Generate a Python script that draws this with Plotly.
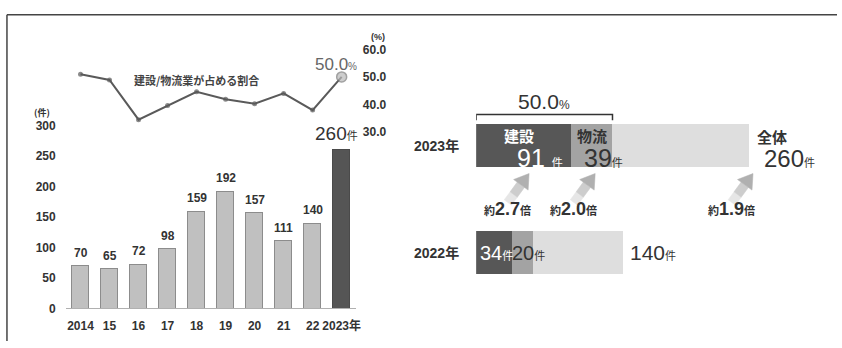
import plotly.graph_objects as go

W, H = 842, 348
def px(x): return x / W
def py(y): return 1 - y / H

# ---------------- data ----------------
years = ["2014", "15", "16", "17", "18", "19", "20", "21", "22", "2023年"]
cases = [70, 65, 72, 98, 159, 192, 157, 111, 140, 260]
share = [51.0, 48.9, 34.4, 39.6, 44.6, 41.9, 40.2, 44.0, 37.9, 50.0]

rows = [0, 1]                     # 0 = 2022, 1 = 2023
row_labels = ["2022年", "2023年"]
construction = [34, 91]
logistics = [20, 39]
total = [140, 260]
others = [t - c - l for t, c, l in zip(total, construction, logistics)]
ratios = ["2.7", "2.0", "1.9"]

pos = list(range(len(years)))

JP = "Noto Sans CJK JP"
NUM = "Liberation Sans, Arial, Noto Sans CJK JP, sans-serif"
NAR = "Liberation Sans Narrow, Liberation Sans, Noto Sans CJK JP, sans-serif"
TXT = "#333333"

fig = go.Figure()

# ---------------- left: bars ----------------
fig.add_trace(go.Bar(
    x=pos, y=cases, xaxis="x", yaxis="y", width=0.58,
    marker=dict(color=["#c0c0c0"] * 9 + ["#555555"],
                line=dict(color=["#8c8c8c"] * 9 + ["#4a4a4a"], width=1)),
    hoverinfo="skip", showlegend=False))

# ---------------- left: share line ----------------
fig.add_trace(go.Scatter(
    x=pos, y=share, xaxis="x", yaxis="y2", mode="lines+markers",
    line=dict(color="#5a5a5a", width=2),
    marker=dict(size=[5] * 9 + [10], color=["#5a5a5a"] * 9 + ["#b8b8b8"],
                line=dict(color="#7a7a7a", width=[0] * 9 + [1.5])),
    cliponaxis=False, hoverinfo="skip", showlegend=False))

# ---------------- right: stacked horizontal bars ----------------
for vals, col in [(construction, "#575757"), (logistics, "#a3a3a3"), (others, "#dedede")]:
    fig.add_trace(go.Bar(
        y=rows, x=vals, orientation="h", xaxis="x3", yaxis="y3", width=0.405,
        marker=dict(color=col, line=dict(width=0)),
        hoverinfo="skip", showlegend=False))

ann = []
# bar value labels (left)
for p, v in zip(pos[:-1], cases[:-1]):
    ann.append(dict(x=p, y=v, xref="x", yref="y", text=str(v), showarrow=False,
                    yanchor="bottom", yshift=4,
                    font=dict(family=NUM, size=12, color=TXT, weight="bold")))
ann.append(dict(x=pos[-1], y=cases[-1], xref="x", yref="y",
                text=f"{cases[-1]}<span style='font-size:11px'>件</span>", showarrow=False,
                yanchor="bottom", yshift=4, xshift=-5,
                font=dict(family=NUM, size=19, color=TXT)))
# last share value
ann.append(dict(x=pos[-1], y=share[-1], xref="x", yref="y2",
                text=f"{share[-1]:.1f}<span style='font-size:10px'>%</span>", showarrow=False,
                xshift=-6, yshift=12,
                font=dict(family=NUM, size=17, color="#666666")))
ann.append(dict(x=pos[4], y=48.9, xref="x", yref="y2", text="建設/物流業が占める割合",
                showarrow=False, font=dict(family=JP, size=11, color="#444444", weight="bold")))
ann.append(dict(x=px(42), y=py(110), xref="paper", yref="paper", text="(件)", showarrow=False,
                xanchor="center", yanchor="middle",
                font=dict(family=JP, size=9, color=TXT, weight="bold")))
ann.append(dict(x=px(380), y=py(31), xref="paper", yref="paper", text="(%)", showarrow=False,
                xanchor="center", yanchor="middle",
                font=dict(family=NUM, size=9, color=TXT, weight="bold")))

# right chart labels
for r, lab in zip(rows, row_labels):
    ann.append(dict(x=px(439), y=r, xref="paper", yref="y3", text=lab, showarrow=False,
                    xanchor="center", yanchor="middle",
                    font=dict(family=NUM, size=14, color=TXT, weight="bold")))

c23, l23, t23 = construction[1], logistics[1], total[1]
ann += [
    dict(x=c23, y=1, xref="x3", yref="y3", text="建設", showarrow=False,
         xanchor="right", xshift=-36, yshift=10,
         font=dict(family=JP, size=15, color="white", weight="bold")),
    dict(x=c23, y=1, xref="x3", yref="y3",
         text=f"{c23} <span style='font-size:11px'>件</span>", showarrow=False,
         xanchor="right", xshift=-7, yshift=-12,
         font=dict(family=NAR, size=25, color="white")),
    dict(x=c23, y=1, xref="x3", yref="y3", text="物流", showarrow=False,
         xanchor="left", xshift=3, yshift=10,
         font=dict(family=JP, size=15, color=TXT, weight="bold")),
    dict(x=c23, y=1, xref="x3", yref="y3",
         text=f"{l23}<span style='font-size:11px'>件</span>", showarrow=False,
         xanchor="left", xshift=10, yshift=-12,
         font=dict(family=NAR, size=25, color=TXT)),
    dict(x=t23, y=1, xref="x3", yref="y3", text="全体", showarrow=False,
         xanchor="left", xshift=6, yshift=9,
         font=dict(family=JP, size=15, color=TXT, weight="bold")),
    dict(x=t23, y=1, xref="x3", yref="y3",
         text=f"{t23}<span style='font-size:11px'>件</span>", showarrow=False,
         xanchor="left", xshift=13, yshift=-13,
         font=dict(family=NAR, size=24, color=TXT)),
    dict(x=(c23 + l23) / 2, y=1.417, xref="x3", yref="y3",
         text="50.0<span style='font-size:12px'>%</span>", showarrow=False,
         font=dict(family=NUM, size=21, color=TXT)),
]
c22, l22, t22 = construction[0], logistics[0], total[0]
ann += [
    dict(x=0, y=0, xref="x3", yref="y3",
         text=f"{c22}<span style='font-size:11px'>件</span>", showarrow=False,
         xanchor="left", xshift=2,
         font=dict(family=NAR, size=20, color="white")),
    dict(x=c22, y=0, xref="x3", yref="y3",
         text=f"{l22}<span style='font-size:11px'>件</span>", showarrow=False,
         xanchor="left", xshift=-2,
         font=dict(family=NAR, size=20, color=TXT)),
    dict(x=t22, y=0, xref="x3", yref="y3",
         text=f"{t22}<span style='font-size:11px'>件</span>", showarrow=False,
         xanchor="left", xshift=5,
         font=dict(family=NAR, size=21, color=TXT)),
]

shapes = [
    dict(type="line", xref="paper", yref="paper", x0=px(7), x1=1, y0=py(8), y1=py(8),
         line=dict(color="#444444", width=1.5)),
    dict(type="line", xref="paper", yref="paper", x0=px(7), x1=px(7), y0=py(8), y1=0,
         line=dict(color="#444444", width=1.5)),
    dict(type="path", xref="x3", yref="y3",
         path=f"M 0,1.238 L 0,1.291 L {c23 + l23},1.291 L {c23 + l23},1.238",
         line=dict(color="#333333", width=1.5)),
]

# growth arrows (pixel-sized polygons anchored at data points, graded grey) + labels
arrow_parts = [
    ("M -24.9,-26.3 L -19.0,-18.3 L -11.8,-23.7 L -17.6,-31.7 Z", "#e6e6e6"),
    ("M -19.0,-18.3 L -11.9,-8.6 L -4.6,-13.9 L -11.8,-23.7 Z", "#cdcdcd"),
    ("M -15.5,-6.0 L 0,0 L -1.0,-16.6 Z", "#b0b0b0"),
]
tips = [c23 / 2 + 5, c23 + l23 / 2 + 3, t23 + 4]
for tip, rt in zip(tips, ratios):
    for path, col in arrow_parts:
        shapes.append(dict(type="path", xref="x3", yref="y3", xsizemode="pixel", ysizemode="pixel",
                           xanchor=tip, yanchor=0.74, path=path,
                           fillcolor=col, line=dict(color=col, width=0.5)))
    ann.append(dict(x=tip, y=0.74, xref="x3", yref="y3",
                    text=f"<span style='font-size:11px'>約</span>{rt}<span style='font-size:11px'>倍</span>",
                    showarrow=False, xshift=-22, yshift=-35,
                    font=dict(family=NUM, size=18, color=TXT, weight="bold")))

tickfont = dict(family=NUM, size=12, color=TXT, weight="bold")
fig.update_layout(
    width=W, height=H, margin=dict(l=0, r=0, t=0, b=0),
    paper_bgcolor="white", plot_bgcolor="white",
    barmode="stack", bargap=0,
    xaxis=dict(domain=[px(66.4), px(358.3)], range=[-0.5, len(years) - 0.5],
               tickvals=pos, ticktext=years, showline=True, linecolor="#b0b0b0", linewidth=1,
               ticks="", showgrid=False, zeroline=False, tickfont=tickfont,
               ticklabelstandoff=6, anchor="y", fixedrange=True),
    yaxis=dict(domain=[py(314), py(123.5)], range=[0, 300], tickvals=[0, 50, 100, 150, 200, 250, 300],
               showgrid=False, zeroline=False, showline=False, ticks="",
               anchor="free", position=px(56), tickfont=tickfont),
    yaxis2=dict(domain=[py(130), py(44.3)], range=[30, 60], tickvals=[30, 40, 50, 60],
                tickformat=".1f", side="right", anchor="free", position=px(364),
                showgrid=False, zeroline=False, showline=False, ticks="", tickfont=tickfont),
    xaxis3=dict(domain=[px(479), 1], range=[0, (W - 479) / 1.055], visible=False, anchor="y3"),
    yaxis3=dict(domain=[0, 1], range=[-0.825, 2.296], visible=False, anchor="x3"),
    annotations=ann, shapes=shapes,
)

fig.write_html("out.html")
